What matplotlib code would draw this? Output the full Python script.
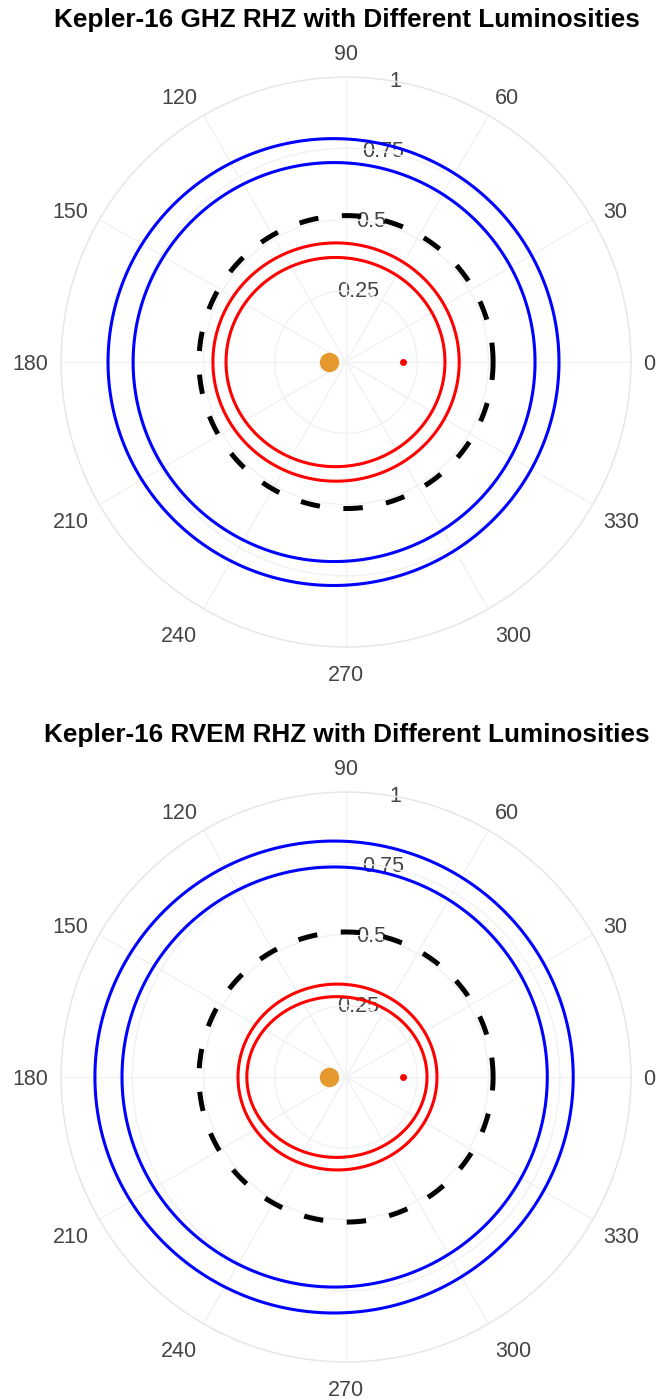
import numpy as np
import matplotlib
matplotlib.use("Agg")
import matplotlib.pyplot as plt
from matplotlib.patches import Polygon
from matplotlib.transforms import IdentityTransform

plt.rcParams['font.family'] = ['Liberation Sans', 'DejaVu Sans']
plt.rcParams['lines.scale_dashes'] = False

# Zone boundaries: x-offset of the centre, semi-axis along 0 deg, semi-axis along 90 deg
ghz_offsets = [-0.044, -0.042, 0.0, -0.035, -0.037]
ghz_semi_x = [0.791, 0.705, 0.516, 0.432, 0.384]
ghz_semi_y = [0.784, 0.700, 0.514, 0.418, 0.367]

rvem_offsets = [-0.042, -0.040, 0.0, -0.030, -0.032]
rvem_semi_x = [0.839, 0.746, 0.516, 0.349, 0.316]
rvem_semi_y = [0.828, 0.737, 0.509, 0.326, 0.282]

zone_colors = ['#0000FF', '#0000FF', '#000000', '#FF0000', '#FF0000']
zone_dashed = [False, False, True, False, False]

# Stars (r, theta in degrees)
star_r = [0.06, 0.2]
star_theta = [180, 0]
star_colors = ['#E69A2E', '#FF0000']
star_sizes = [14, 5]

angle_ticks = list(range(0, 360, 30))
radial_ticks = [0.25, 0.5, 0.75, 1]
radial_labels = ['0.25', '0.5', '0.75', '1']

titles = ['Kepler-16 GHZ RHZ with Different Luminosities',
          'Kepler-16 RVEM RHZ with Different Luminosities']

TICK_COLOR = '#444444'
GRID_COLOR = '#f1f1f1'
FS = 15.5
DPI = 100


def ellipse_polar(cx, a, b, n=721):
    phi = np.linspace(0, 2 * np.pi, n)
    x = cx + a * np.cos(phi)
    y = b * np.sin(phi)
    return np.unwrap(np.arctan2(y, x)), np.hypot(x, y)


def draw_panel(ax, offsets, semi_x, semi_y):
    ax.set_xlim(0, 2 * np.pi)
    ax.set_ylim(0, 1)
    ax.set_autoscale_on(False)
    ax.set_xticks(np.deg2rad(angle_ticks))
    ax.set_xticklabels([])
    ax.set_yticks(radial_ticks)
    ax.set_yticklabels([])
    ax.grid(True, color=GRID_COLOR, lw=1.0)
    ax.spines['polar'].set_color('#e6e6e6')
    ax.spines['polar'].set_linewidth(1.0)
    ax.tick_params(length=0)

    for cx, a, b, c, dashed in zip(offsets, semi_x, semi_y, zone_colors, zone_dashed):
        th, r = ellipse_polar(cx, a, b)
        if dashed:
            ax.plot(th, r, color=c, lw=3.6, dashes=[14, 17], dash_capstyle='butt')
        else:
            # closed outline in pixel space (via the polar transData) -> no seam
            pts = ax.transData.transform(np.column_stack([th, r]))[:-1]
            ax.add_patch(Polygon(pts, closed=True, fill=False, ec=c, lw=2.2,
                                 joinstyle='round', transform=IdentityTransform(),
                                 zorder=2))

    for r, t, c, s in zip(star_r, star_theta, star_colors, star_sizes):
        ax.plot(np.deg2rad(t), r, 'o', color=c, ms=s, mec='none')

    # angular tick labels, anchored on the side facing the ring
    pad = 9
    for d in angle_ticks:
        rad = np.deg2rad(d)
        c, s = np.cos(rad), np.sin(rad)
        ha = 'center' if abs(c) < 0.1 else ('left' if c > 0 else 'right')
        ff = 0.2 if s > 0 else 1.0
        dx = c * pad
        dy = s * (pad + FS * ff) - abs(c) * FS * 0.35
        ax.annotate(str(d), xy=(rad, 1), xytext=(dx, dy), textcoords='offset points',
                    ha=ha, va='baseline', fontsize=FS, color=TICK_COLOR,
                    annotation_clip=False)

    for v, lab in zip(radial_ticks, radial_labels):
        ax.text(np.deg2rad(80), v, lab, ha='center', va='center',
                fontsize=FS, color=TICK_COLOR, zorder=1)


fig = plt.figure(figsize=(6.56, 13.99), dpi=DPI)
ax1 = fig.add_axes([0.093, 0.5375, 0.869, 0.4074], projection='polar')
ax2 = fig.add_axes([0.093, 0.02645, 0.869, 0.4074], projection='polar')

draw_panel(ax1, ghz_offsets, ghz_semi_x, ghz_semi_y)
draw_panel(ax2, rvem_offsets, rvem_semi_x, rvem_semi_y)

fig.text(0.529, 1 - 20 / 1399, titles[0], ha='center', va='center',
         fontsize=18.8, fontweight='bold', color='black')
fig.text(0.529, 1 - 735 / 1399, titles[1], ha='center', va='center',
         fontsize=18.8, fontweight='bold', color='black')

fig.savefig('out.png', dpi=DPI, facecolor='white')
